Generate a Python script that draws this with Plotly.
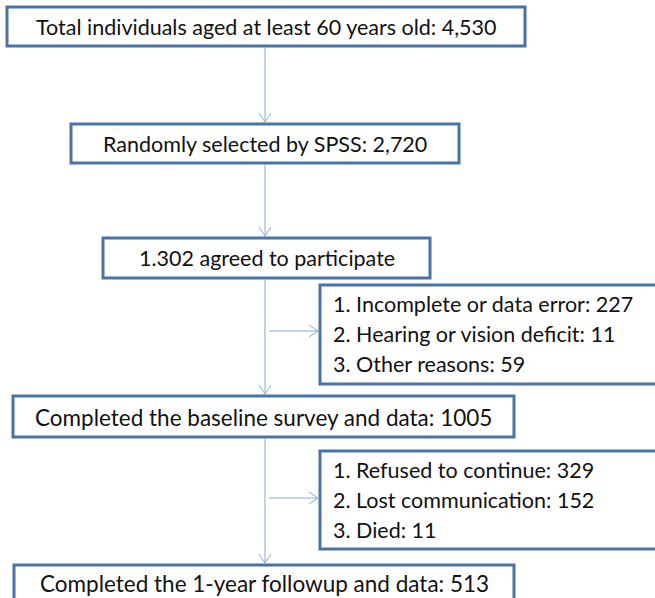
import plotly.graph_objects as go

# ---- data (flowchart content) ----
main_labels = [
    "Total individuals aged at least 60 years old: 4,530",
    "Randomly selected by SPSS: 2,720",
    "1.302 agreed to participate",
    "Completed the baseline survey and data: 1005",
    "Completed the 1-year followup and data: 513",
]
excl1_items = ["1. Incomplete or data error: 227",
               "2. Hearing or vision deficit: 11",
               "3. Other reasons: 59"]
excl2_items = ["1. Refused to continue: 329",
               "2. Lost communication: 152",
               "3. Died: 11"]

# ---- layout geometry (pixel space, y downward) ----
main_boxes = [  # x0, x1, y0, y1
    (7, 525, 7, 46),
    (71, 459, 124, 163),
    (103, 430, 238, 278),
    (13, 514, 396, 437),
    (14, 514, 565, 612),
]
main_text_y = [27, 144, 258, 417, 583]
main_font = [21.5, 21.5, 21.5, 22.5, 22.5]
side_boxes = [(320, 662, 285, 384), (320, 662, 451, 549)]
spine_x = 265
branch_y = [331, 498]

BORDER = "#4a73a3"
ARROW = "#84acd6"
FONT = "Lato"
FSIZE = 21.5

fig = go.Figure()
shapes = []
annotations = []

for (x0, x1, y0, y1), label, ty, fs in zip(main_boxes, main_labels, main_text_y, main_font):
    shapes.append(dict(type="rect", x0=x0, x1=x1, y0=y0, y1=y1,
                       line=dict(color=BORDER, width=3), fillcolor="white", layer="above"))
    annotations.append(dict(x=(x0 + x1) / 2, y=ty, text=label, showarrow=False,
                            xanchor="center", yanchor="middle",
                            font=dict(family=FONT, size=fs, color="#111")))

for (x0, x1, y0, y1), items in zip(side_boxes, [excl1_items, excl2_items]):
    shapes.append(dict(type="rect", x0=x0, x1=x1, y0=y0, y1=y1,
                       line=dict(color=BORDER, width=3), fillcolor="white", layer="above"))
    for i, t in enumerate(items):
        annotations.append(dict(x=x0 + 11, y=y0 + 19 + 30 * i, text=t, showarrow=False,
                                xanchor="left", yanchor="middle",
                                font=dict(family=FONT, size=FSIZE, color="#111")))

def arrow_down(x, y_from, y_to):
    shapes.append(dict(type="line", x0=x, x1=x, y0=y_from, y1=y_to,
                       line=dict(color=ARROW, width=1)))
    shapes.append(dict(type="path", path=f"M {x-6},{y_to-9} L {x},{y_to} L {x+6},{y_to-9}",
                       line=dict(color=ARROW, width=1)))

def arrow_right(y, x_from, x_to):
    shapes.append(dict(type="line", x0=x_from, x1=x_to, y0=y, y1=y,
                       line=dict(color=ARROW, width=1)))
    shapes.append(dict(type="path", path=f"M {x_to-9},{y-6} L {x_to},{y} L {x_to-9},{y+6}",
                       line=dict(color=ARROW, width=1)))

for i in range(4):
    arrow_down(spine_x, main_boxes[i][3] + 1, main_boxes[i + 1][2] - 2)
arrow_right(branch_y[0], spine_x + 4, side_boxes[0][0] - 2)
arrow_right(branch_y[1], spine_x + 4, side_boxes[1][0] - 2)

fig.update_layout(
    width=655, height=598,
    margin=dict(l=0, r=0, t=0, b=0),
    paper_bgcolor="white", plot_bgcolor="white",
    xaxis=dict(range=[0, 655], visible=False, fixedrange=True),
    yaxis=dict(range=[598, 0], visible=False, fixedrange=True),
    shapes=shapes, annotations=annotations, showlegend=False,
)
fig.write_html("out.html", config={"displayModeBar": False},
               post_script="document.body.style.margin='0';document.body.style.overflow='hidden';")
